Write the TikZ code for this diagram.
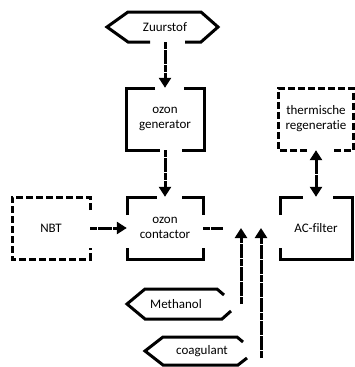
\documentclass[tikz,border=0pt]{standalone}
\usepackage{fontspec}
\setmainfont{Carlito}[Ligatures=NoCommon]
\usetikzlibrary{arrows.meta}
\begin{document}
\begin{tikzpicture}[x=1pt,y=-1pt,
  txt/.style={font=\fontsize{13}{15}\selectfont, align=center, inner sep=0pt},
  solidb/.style={line width=3pt},
  dashb/.style={line width=3pt, dash pattern=on 7pt off 3pt},
  link/.style={line width=3pt, dash pattern=on 7pt off 0.6pt},
  conn/.style={link, -{Triangle[width=12pt,length=10pt]}},
  dconn/.style={link, {Triangle[width=12pt,length=10pt]}-{Triangle[width=12pt,length=10pt]}}]
\useasboundingbox[fill=white] (0,0) rectangle (355,367);

% nodes
\node[txt, minimum width=90pt, minimum height=30pt] (zuur) at (165,27) {Zuurstof};
\node[txt, minimum width=78pt, minimum height=62pt] (gen) at (165,119) {ozon\\generator};
\node[txt, minimum width=76pt, minimum height=62pt] (cont) at (165,228) {ozon\\contactor};
\node[txt, minimum width=78pt, minimum height=62pt] (nbt) at (51,228) {NBT};
\node[txt, minimum width=72pt, minimum height=62pt] (ac) at (316,228) {AC-filter};
\node[txt, minimum width=75pt, minimum height=62pt] (therm) at (316,119) {thermische\\regeneratie};
\node[txt] (meth) at (176,304) {Methanol};
\node[txt] (coag) at (202,351) {coagulant};

% shapes
\draw[solidb] (150,42) -- (128,42) -- (107,27) -- (128,12) -- (201,12) -- (218,27) -- (201,42) -- (185,42);
\draw[solidb] (155,88) -- (126,88) -- (126,150) -- (160,150);
\draw[solidb] (184,88) -- (204,88) -- (204,150) -- (182,150);
\draw[solidb] (127,215) -- (127,197) -- (157,197);
\draw[solidb] (182,197) -- (203,197) -- (203,215);
\draw[solidb] (127,248) -- (127,259) -- (203,259) -- (203,248);
\draw[solidb] (280,215) -- (280,197) -- (303,197);
\draw[solidb] (333,197) -- (352,197) -- (352,259) -- (280,259) -- (280,248);
\draw[dashb] (90,210) -- (90,197) -- (12,197) -- (12,259) -- (90,259) -- (90,248);
\draw[dashb] (307,150) -- (278.5,150) -- (278.5,88) -- (353.5,88) -- (353.5,150) -- (332,150);
\draw[solidb] (231,311) -- (222,319) -- (145,319) -- (127,304) -- (145,289) -- (217,289) -- (224,295);
\draw[solidb] (247,358) -- (238,365) -- (163,365) -- (145,351) -- (163,337) -- (237,337) -- (243,342);

% coordinates
\coordinate (j1) at (223,228);
\coordinate (m1) at (241,304);
\coordinate (m2) at (241,228);
\coordinate (c1) at (261,358);
\coordinate (c2) at (261,228);

% connectors
\draw[conn] (zuur.south) -- (gen.north);
\draw[conn] (gen.south) -- (cont.north);
\draw[conn] (nbt.east) -- (cont.west);
\draw[link] (cont.east) -- (j1);
\draw[conn] (m1) -- (m2);
\draw[conn] (c1) -- (c2);
\draw[dconn] (therm.south) -- (ac.north);
\end{tikzpicture}
\end{document}
